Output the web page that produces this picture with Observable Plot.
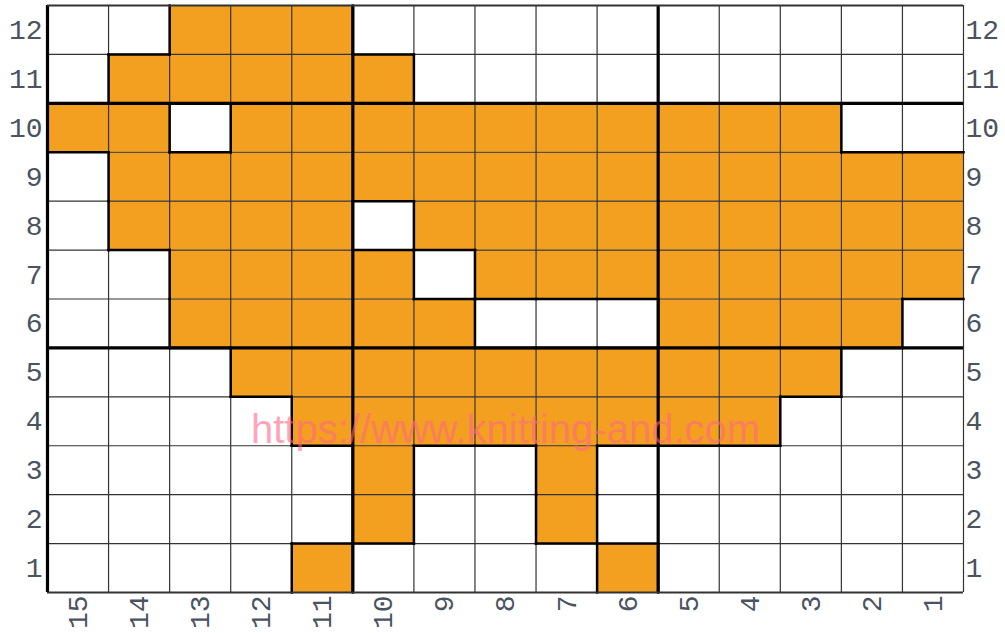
<!DOCTYPE html>
<html>
<head>
<meta charset="utf-8">
<script src="https://cdn.jsdelivr.net/npm/d3@7"></script>
<script src="https://cdn.jsdelivr.net/npm/@observablehq/plot@0.6"></script>
<style>
  html, body { margin: 0; padding: 0; background: #fff; }
</style>
</head>
<body>
<div id="chart"></div>
<script>
// Column labels, left to right; row labels, bottom to top
const columns = [15, 14, 13, 12, 11, 10, 9, 8, 7, 6, 5, 4, 3, 2, 1];
const rows = [1, 2, 3, 4, 5, 6, 7, 8, 9, 10, 11, 12];

// Filled (orange) columns for each row
const row12 = [13, 12, 11];
const row11 = [14, 13, 12, 11, 10];
const row10 = [15, 14, 12, 11, 10, 9, 8, 7, 6, 5, 4, 3];
const row9 = [14, 13, 12, 11, 10, 9, 8, 7, 6, 5, 4, 3, 2, 1];
const row8 = [14, 13, 12, 11, 9, 8, 7, 6, 5, 4, 3, 2, 1];
const row7 = [13, 12, 11, 10, 8, 7, 6, 5, 4, 3, 2, 1];
const row6 = [13, 12, 11, 10, 9, 5, 4, 3, 2];
const row5 = [12, 11, 10, 9, 8, 7, 6, 5, 4, 3];
const row4 = [11, 10, 9, 8, 7, 6, 5, 4];
const row3 = [10, 7];
const row2 = [10, 7];
const row1 = [11, 6];

const watermark = "https://www.knitting-and.com";

const filledRows = [row1, row2, row3, row4, row5, row6, row7, row8, row9, row10, row11, row12];

const nCols = columns.length;
const nRows = rows.length;
const colIndex = c => columns.indexOf(c);

// cells table built from the arrays
const cells = [];
filledRows.forEach((cols, ri) => {
  cols.forEach(c => cells.push({col: c, row: rows[ri]}));
});
const filled = new Set(cells.map(d => d.col + ":" + d.row));
const isFilled = (c, r) => filled.has(c + ":" + r);

// Boundary edges between filled and empty cells
const edges = [];
for (const d of cells) {
  const i = colIndex(d.col), r = d.row;
  if (i > 0 && !isFilled(d.col + 1, r)) edges.push({x1: i, x2: i, y1: r - 1, y2: r});
  if (i < nCols - 1 && !isFilled(d.col - 1, r)) edges.push({x1: i + 1, x2: i + 1, y1: r - 1, y2: r});
  if (r < nRows && !isFilled(d.col, r + 1)) edges.push({x1: i, x2: i + 1, y1: r, y2: r});
  if (r > 1 && !isFilled(d.col, r - 1)) edges.push({x1: i, x2: i + 1, y1: r - 1, y2: r - 1});
}

const colCenters = columns.map((c, i) => i + 0.5);
const rowCenters = rows.map(r => r - 0.5);

const chart = Plot.plot({
  width: 1005,
  height: 633,
  marginLeft: 47,
  marginRight: 42,
  marginTop: 5,
  marginBottom: 41,
  style: {fontFamily: "Liberation Mono, monospace", fontSize: "28px", color: "#4a5360", background: "#fff"},
  x: {type: "linear", domain: [0, nCols]},
  y: {type: "linear", domain: [0, nRows]},
  marks: [
    Plot.rect(cells, {
      x1: d => colIndex(d.col), x2: d => colIndex(d.col) + 1,
      y1: d => d.row - 1, y2: d => d.row,
      fill: "#f39f1f", inset: 0
    }),
    Plot.ruleX(d3.range(0, nCols + 1), {stroke: "#333", strokeWidth: 1.2}),
    Plot.ruleY(d3.range(0, nRows + 1), {stroke: "#333", strokeWidth: 1.2}),
    Plot.link(edges, {x1: "x1", x2: "x2", y1: "y1", y2: "y2", stroke: "#000", strokeWidth: 2.5, strokeLinecap: "square"}),
    Plot.ruleX([5, 10], {stroke: "#000", strokeWidth: 3.2}),
    Plot.ruleY([5, 10], {stroke: "#000", strokeWidth: 3.2}),
    Plot.ruleX([0], {stroke: "#000", strokeWidth: 3.2}),
    Plot.ruleY([0], {stroke: "#333", strokeWidth: 1.8}),
    Plot.ruleY([nRows], {stroke: "#333", strokeWidth: 1.8}),
    Plot.axisX({
      anchor: "bottom", ticks: colCenters, tickFormat: d => columns[Math.round(d - 0.5)],
      tickSize: 0, tickPadding: 3, tickRotate: -90, label: null
    }),
    Plot.axisY({
      anchor: "left", ticks: rowCenters, tickFormat: d => rows[Math.round(d - 0.5)],
      tickSize: 0, tickPadding: 5, label: null
    }),
    Plot.axisY({
      anchor: "right", ticks: rowCenters, tickFormat: d => rows[Math.round(d - 0.5)],
      tickSize: 0, tickPadding: 2, label: null
    }),
    Plot.text([watermark], {
      x: nCols / 2, y: 3.31, text: d => d,
      fontFamily: "Liberation Sans, Arial, sans-serif", fontSize: 40,
      fill: "#ff6688", fillOpacity: 0.6, textAnchor: "middle", lineAnchor: "middle"
    })
  ]
});

document.getElementById("chart").appendChild(chart);
</script>
</body>
</html>
